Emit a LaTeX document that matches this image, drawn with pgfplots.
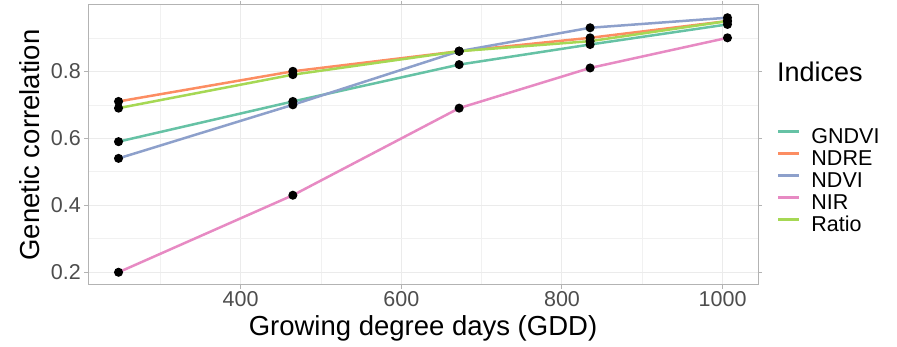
\documentclass[border=0pt]{standalone}
\usepackage{fontspec}
\setmainfont{Liberation Sans}
\usepackage{pgfplots}
\pgfplotsset{compat=1.18}
\definecolor{cG}{HTML}{66C2A5}
\definecolor{cR}{HTML}{FC8D62}
\definecolor{cD}{HTML}{8DA0CB}
\definecolor{cN}{HTML}{E78AC3}
\definecolor{cT}{HTML}{A6D854}
\definecolor{gridc}{HTML}{EBEBEB}
\definecolor{bordc}{HTML}{B3B3B3}
\definecolor{tickc}{HTML}{4D4D4D}
\begin{document}
\begin{tikzpicture}[x=1pt,y=1pt]
\useasboundingbox (0,0) rectangle (897,347);
\begin{axis}[
  at={(88pt,62pt)}, anchor=south west,
  scale only axis, width=670pt, height=280pt,
  xmin=210, xmax=1044, ymin=0.162, ymax=0.998,
  xtick={400,600,800,1000}, minor xtick={300,500,700,900},
  xticklabels={400,600,800,1000},
  ytick={0.2,0.4,0.6,0.8}, minor ytick={0.3,0.5,0.7,0.9},
  yticklabels={0.2,0.4,0.6,0.8},
  grid=both,
  major grid style={color=gridc, line width=1pt},
  minor grid style={color=gridc!70, line width=0.6pt},
  axis line style={color=bordc, line width=1pt},
  tick style={color=bordc, line width=1pt},
  tick align=outside, major tick length=4pt, minor tick length=0pt,
  /pgf/number format/assume math mode=true,
  ticklabel style={font=\fontsize{21.5}{21.5}\selectfont, text=tickc},
  xticklabel style={inner sep=2pt},
  yticklabel style={inner sep=3pt},
  xlabel={Growing degree days (GDD)},
  ylabel={Genetic correlation},
  label style={font=\fontsize{27.5}{27.5}\selectfont},
  xlabel style={at={(axis description cs:0.5,-0.155)}, anchor=center},
  ylabel style={at={(axis description cs:-0.0866,0.5)}, anchor=center},
  legend style={at={(1.028,0.561)}, anchor=north west, draw=none, fill=none,
    font=\fontsize{21.5}{21.5}\selectfont, row sep=0pt, column sep=11pt, inner sep=0pt,
    nodes={text height=15.5pt, text depth=6.5pt, inner sep=0pt}},
  legend cell align=left,
  legend image code/.code={\draw[#1, line width=2.5pt] (0pt,7.5pt) -- (21pt,7.5pt);},
  every axis plot/.append style={line width=2.5pt},
]
\addplot[cG, mark=none] coordinates {(248,0.59) (465,0.71) (672,0.82) (835,0.88) (1006,0.94)};
\addlegendentry{GNDVI}
\addplot[cR, mark=none] coordinates {(248,0.71) (465,0.80) (672,0.86) (835,0.90) (1006,0.95)};
\addlegendentry{NDRE}
\addplot[cD, mark=none] coordinates {(248,0.54) (465,0.70) (672,0.86) (835,0.93) (1006,0.96)};
\addlegendentry{NDVI}
\addplot[cN, mark=none] coordinates {(248,0.20) (465,0.43) (672,0.69) (835,0.81) (1006,0.90)};
\addlegendentry{NIR}
\addplot[cT, mark=none] coordinates {(248,0.69) (465,0.79) (672,0.86) (835,0.89) (1006,0.95)};
\addlegendentry{Ratio}
\pgfplotsset{every axis plot/.append style={forget plot}}
\addplot[only marks, mark=*, mark size=3.2pt, black] coordinates {(248,0.59) (465,0.71) (672,0.82) (835,0.88) (1006,0.94)};
\addplot[only marks, mark=*, mark size=3.2pt, black] coordinates {(248,0.71) (465,0.80) (672,0.86) (835,0.90) (1006,0.95)};
\addplot[only marks, mark=*, mark size=3.2pt, black] coordinates {(248,0.54) (465,0.70) (672,0.86) (835,0.93) (1006,0.96)};
\addplot[only marks, mark=*, mark size=3.2pt, black] coordinates {(248,0.20) (465,0.43) (672,0.69) (835,0.81) (1006,0.90)};
\addplot[only marks, mark=*, mark size=3.2pt, black] coordinates {(248,0.69) (465,0.79) (672,0.86) (835,0.89) (1006,0.95)};
\end{axis}
\node[anchor=west, font=\fontsize{27}{27}\selectfont, inner sep=0pt] at (777,275) {Indices};
\end{tikzpicture}
\end{document}
